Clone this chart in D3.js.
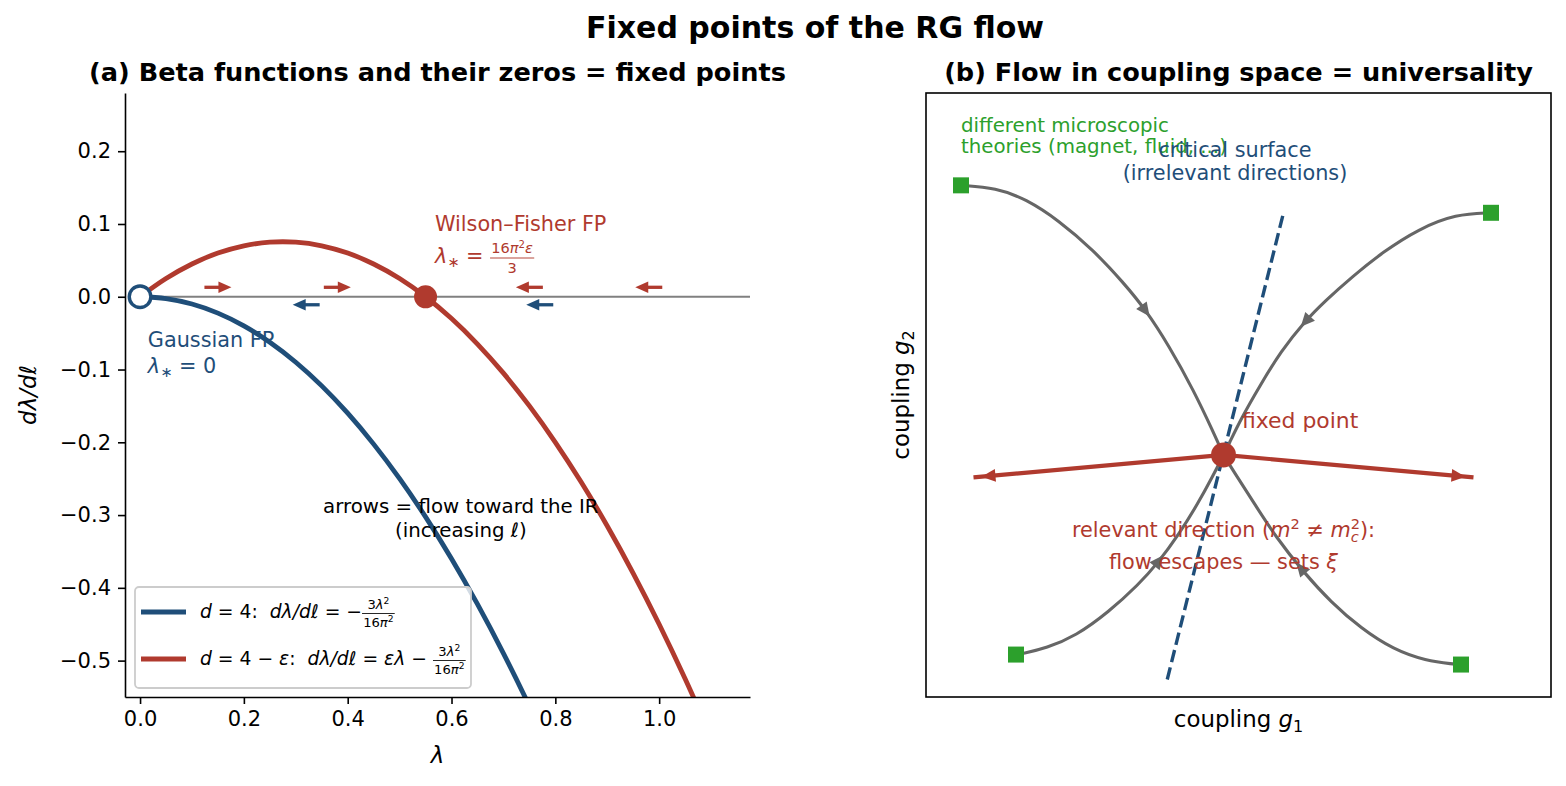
<!DOCTYPE html>
<html>
<head>
<meta charset="utf-8">
<script src="https://cdn.jsdelivr.net/npm/d3@7"></script>
<style>
  body { margin: 0; background: #fff; }
  svg { font-family: "DejaVu Sans", sans-serif; }
  text { white-space: pre; }
</style>
</head>
<body>
<svg id="chart" width="1566" height="786"></svg>
<script>
// ---- data: panel (a) beta functions ----
const lam = [0, 0.05, 0.1, 0.15, 0.2, 0.25, 0.3, 0.35, 0.4, 0.45, 0.5, 0.55,
  0.6, 0.65, 0.7, 0.75, 0.8, 0.85, 0.9, 0.95, 1.0, 1.05, 1.1];
const betaD4 = [0, -0.0025, -0.01, -0.0225, -0.04, -0.0625, -0.09, -0.1225, -0.16,
  -0.2025, -0.25, -0.3025, -0.36, -0.4225, -0.49, -0.5625, -0.64, -0.7225, -0.81,
  -0.9025, -1.0, -1.1025, -1.21];
const betaEps = [0, 0.025, 0.045, 0.06, 0.07, 0.075, 0.075, 0.07, 0.06, 0.045,
  0.025, 0, -0.03, -0.065, -0.105, -0.15, -0.2, -0.255, -0.315, -0.38, -0.45,
  -0.525, -0.605];
const lamTicks = [0, 0.2, 0.4, 0.6, 0.8, 1.0];
const betaTicks = [0.2, 0.1, 0, -0.1, -0.2, -0.3, -0.4, -0.5];
const gaussianFP = [0, 0];
const wilsonFisherFP = [0.55, 0];
// flow arrows along the lambda axis (centre, direction)
const epsArrowLam = [0.15, 0.38, 0.75, 0.98];
const epsArrowDir = [1, 1, -1, -1];
const d4ArrowLam = [0.32, 0.77];
const d4ArrowDir = [-1, -1];

// ---- data: panel (b) coupling space ----
const fixedPoint = [0, 0];
const flowTL = [[-1.05, 1.08], [-0.91, 1.07], [-0.79, 1.025], [-0.66, 0.94], [-0.52, 0.82],
  [-0.40, 0.69], [-0.31, 0.58], [-0.22, 0.44], [-0.12, 0.26], [-0.04, 0.09], [0, 0]];
const flowTR = [[1.07, 0.97], [0.93, 0.965], [0.78, 0.905], [0.64, 0.815], [0.51, 0.71],
  [0.41, 0.62], [0.32, 0.53], [0.23, 0.415], [0.15, 0.285], [0.07, 0.145], [0.02, 0.04], [0, 0]];
const flowBL = [[-0.83, -0.80], [-0.80, -0.795], [-0.71, -0.775], [-0.59, -0.725], [-0.46, -0.63],
  [-0.34, -0.52], [-0.26, -0.43], [-0.18, -0.32], [-0.105, -0.20], [-0.04, -0.08], [0, 0]];
const flowBR = [[0.95, -0.84], [0.92, -0.838], [0.81, -0.825], [0.68, -0.78], [0.55, -0.695],
  [0.43, -0.59], [0.32, -0.47], [0.21, -0.33], [0.12, -0.19], [0.04, -0.065], [0, 0]];
const relevantEnds = [[-1.0, -0.09], [1.0, -0.09]];
const criticalSurface = [[-0.225, -0.90], [0.24, 0.97]];

const RED = "#b03a2e", BLUE = "#1f4e79", GREEN = "#2ca02c", FLOW = "#666666";

const svg = d3.select("#chart");

// --- tiny mathtext-like layout: parts = [{t, it, sup, sub} | {frac:[num, den]} | {subsup:[a,b], it}]
function mathRun(g, x, y, parts, size, color) {
  let cx = x;
  parts.forEach(p => {
    if (p.frac) {
      const fs = size * 0.7;
      const ng = g.append("g"), dg = g.append("g");
      const wn = mathRun(ng, 0, 0, p.frac[0], fs, color);
      const wd = mathRun(dg, 0, 0, p.frac[1], fs, color);
      const w = Math.max(wn, wd) + size * 0.12;
      ng.attr("transform", `translate(${cx + (w - wn) / 2},${y - size * 0.46})`);
      dg.attr("transform", `translate(${cx + (w - wd) / 2},${y + size * 0.48})`);
      g.append("line")
        .attr("x1", cx).attr("x2", cx + w)
        .attr("y1", y - size * 0.24).attr("y2", y - size * 0.24)
        .attr("stroke", color).attr("stroke-width", size * 0.045);
      cx += w;
    } else if (p.subsup) {
      const fs = size * 0.7;
      const a = g.append("text").attr("x", cx).attr("y", y + size * 0.22)
        .attr("font-size", fs).attr("fill", color)
        .attr("font-style", p.it ? "italic" : null).text(p.subsup[0]);
      const b = g.append("text").attr("x", cx).attr("y", y - size * 0.4)
        .attr("font-size", fs).attr("fill", color).text(p.subsup[1]);
      cx += Math.max(a.node().getComputedTextLength(), b.node().getComputedTextLength());
    } else {
      const small = p.sup || p.sub;
      const fs = small ? size * 0.7 : size;
      const dy = p.sup ? -size * 0.38 : p.sub ? size * 0.2 : 0;
      const t = g.append("text").attr("x", cx).attr("y", y + dy)
        .attr("font-size", fs).attr("fill", color)
        .attr("font-style", p.it ? "italic" : null)
        .text(p.t);
      cx += t.node().getComputedTextLength();
    }
  });
  return cx - x;
}

function mathText(parent, x, y, parts, size, color, anchor, rotate) {
  const outer = parent.append("g").attr("transform", `translate(${x},${y})` + (rotate ? ` rotate(${rotate})` : ""));
  const g = outer.append("g");
  const w = mathRun(g, 0, 0, parts, size, color);
  if (anchor === "middle") g.attr("transform", `translate(${-w / 2},0)`);
  return outer;
}

function arrow(g, x1, y1, x2, y2, color, lw, headLen, headW, overshoot) {
  const dx = x2 - x1, dy = y2 - y1, L = Math.hypot(dx, dy);
  const ux = dx / L, uy = dy / L;
  const tx = x2 - ux * (overshoot || 0), ty = y2 - uy * (overshoot || 0);
  const bx = tx - ux * headLen, by = ty - uy * headLen;
  g.append("line")
    .attr("x1", x1).attr("y1", y1)
    .attr("x2", overshoot ? x2 : bx + ux * 2).attr("y2", overshoot ? y2 : by + uy * 2)
    .attr("stroke", color).attr("stroke-width", lw);
  g.append("path")
    .attr("d", `M${tx},${ty}L${bx - uy * headW / 2},${by + ux * headW / 2}L${bx + uy * headW / 2},${by - ux * headW / 2}Z`)
    .attr("fill", color);
}

function styleAxis(sel) {
  sel.select(".domain").attr("stroke", "#000").attr("stroke-width", 1.6);
  sel.selectAll(".tick line").attr("stroke", "#000").attr("stroke-width", 1.6);
  sel.selectAll(".tick text").attr("fill", "#000").attr("font-size", 21)
    .attr("font-family", "DejaVu Sans");
}

// ---- suptitle ----
svg.append("text").attr("x", 815).attr("y", 38).attr("text-anchor", "middle")
  .attr("font-size", 30).attr("font-weight", "bold")
  .text("Fixed points of the RG flow");

// =============== panel (a) ===============
const A = { left: 125, right: 750, top: 93, bottom: 697 };
const ax = d3.scaleLinear().domain([-0.029, 1.175]).range([A.left, A.right]);
const ay = d3.scaleLinear().domain([-0.55, 0.28]).range([A.bottom, A.top]);
const ga = svg.append("g");

svg.append("defs").append("clipPath").attr("id", "clipA")
  .append("rect").attr("x", A.left).attr("y", A.top)
  .attr("width", A.right - A.left).attr("height", A.bottom - A.top);

ga.append("text").attr("x", (A.left + A.right) / 2).attr("y", 81)
  .attr("text-anchor", "middle").attr("font-size", 25.6).attr("font-weight", "bold")
  .text("(a) Beta functions and their zeros = fixed points");

// zero line
ga.append("line")
  .attr("x1", ax(0)).attr("x2", ax(ax.domain()[1]))
  .attr("y1", ay(0)).attr("y2", ay(0))
  .attr("stroke", "#808080").attr("stroke-width", 2);

const lineA = d3.line().x((d, i) => ax(lam[i])).y(d => ay(d)).curve(d3.curveCatmullRom);
const curves = ga.append("g").attr("clip-path", "url(#clipA)");
curves.append("path").attr("d", lineA(betaD4)).attr("fill", "none")
  .attr("stroke", BLUE).attr("stroke-width", 4.8);
curves.append("path").attr("d", lineA(betaEps)).attr("fill", "none")
  .attr("stroke", RED).attr("stroke-width", 4.8);

// flow arrows on the axis
const halfA = 0.026;
epsArrowLam.forEach((l, i) => {
  const d = epsArrowDir[i];
  arrow(ga, ax(l - d * halfA), ay(0.013), ax(l + d * halfA), ay(0.013), RED, 3.3, 13, 11.5);
});
d4ArrowLam.forEach((l, i) => {
  const d = d4ArrowDir[i];
  arrow(ga, ax(l - d * halfA), ay(-0.011), ax(l + d * halfA), ay(-0.011), BLUE, 3.3, 13, 11.5);
});

// fixed point markers
ga.append("circle").attr("cx", ax(gaussianFP[0])).attr("cy", ay(gaussianFP[1])).attr("r", 10.8)
  .attr("fill", "#fff").attr("stroke", BLUE).attr("stroke-width", 3.4);
ga.append("circle").attr("cx", ax(wilsonFisherFP[0])).attr("cy", ay(wilsonFisherFP[1])).attr("r", 11.5)
  .attr("fill", RED);

// axes
const axB = ga.append("g").attr("transform", `translate(0,${A.bottom})`)
  .call(d3.axisBottom(ax).tickValues(lamTicks).tickFormat(d3.format(".1f"))
    .tickSize(7).tickPadding(7).tickSizeOuter(0));
styleAxis(axB);
const axL = ga.append("g").attr("transform", `translate(${A.left},0)`)
  .call(d3.axisLeft(ay).tickValues(betaTicks).tickFormat(d3.format(".1f"))
    .tickSize(7).tickPadding(7).tickSizeOuter(0));
styleAxis(axL);

mathText(ga, (A.left + A.right) / 2, 763, [{ t: "λ", it: true }], 22.9, "#000", "middle");
mathText(ga, 36, (A.top + A.bottom) / 2, [{ t: "dλ/dℓ", it: true }], 22.9, "#000", "middle", -90);

// annotations
ga.append("text").attr("x", ax(0.568)).attr("y", 231).attr("font-size", 20.8).attr("fill", RED)
  .text("Wilson–Fisher FP");
mathText(ga, ax(0.568), 263, [{ t: "λ", it: true }, { t: "∗", sub: true }, { t: " = " },
  { frac: [[{ t: "16" }, { t: "π", it: true }, { t: "2", sup: true }, { t: "ε", it: true }], [{ t: "3" }]] }],
  20.8, RED);
ga.append("text").attr("x", ax(0.015)).attr("y", 347).attr("font-size", 20.8).attr("fill", BLUE)
  .text("Gaussian FP");
mathText(ga, ax(0.015), 373, [{ t: "λ", it: true }, { t: "∗", sub: true }, { t: " = 0" }], 20.8, BLUE);

ga.append("text").attr("x", ax(0.618)).attr("y", 513).attr("text-anchor", "middle")
  .attr("font-size", 19.8).text("arrows = flow toward the IR");
mathText(ga, ax(0.618), 537, [{ t: "(increasing " }, { t: "ℓ", it: true }, { t: ")" }], 19.8, "#000", "middle");

// legend
const leg = ga.append("g");
leg.append("rect").attr("x", 135).attr("y", 587).attr("width", 336).attr("height", 101)
  .attr("rx", 4).attr("fill", "#fff").attr("fill-opacity", 0.8)
  .attr("stroke", "#cccccc").attr("stroke-width", 1.8);
const fracL = { frac: [[{ t: "3" }, { t: "λ", it: true }, { t: "2", sup: true }],
  [{ t: "16" }, { t: "π", it: true }, { t: "2", sup: true }]] };
const legendItems = [
  { color: BLUE, parts: [{ t: "d", it: true }, { t: " = 4:  " }, { t: "dλ/dℓ", it: true }, { t: " = −" }, fracL] },
  { color: RED, parts: [{ t: "d", it: true }, { t: " = 4 − " }, { t: "ε", it: true }, { t: ":  " },
    { t: "dλ/dℓ", it: true }, { t: " = " }, { t: "ελ", it: true }, { t: " − " }, fracL] }
];
legendItems.forEach((it, i) => {
  const yy = 612 + i * 47;
  leg.append("line").attr("x1", 141).attr("x2", 186).attr("y1", yy).attr("y2", yy)
    .attr("stroke", it.color).attr("stroke-width", 4.8);
  mathText(leg, 200, yy + 6, it.parts, 18.75, "#000");
});

// =============== panel (b) ===============
const B = { left: 926, right: 1551, top: 93, bottom: 697 };
const bx = d3.scaleLinear().domain([-1.19, 1.31]).range([B.left, B.right]);
const by = d3.scaleLinear().domain([-0.97, 1.45]).range([B.bottom, B.top]);
const gb = svg.append("g");

gb.append("text").attr("x", (B.left + B.right) / 2).attr("y", 81)
  .attr("text-anchor", "middle").attr("font-size", 25.6).attr("font-weight", "bold")
  .text("(b) Flow in coupling space = universality");

// critical surface
gb.append("line")
  .attr("x1", bx(criticalSurface[0][0])).attr("y1", by(criticalSurface[0][1]))
  .attr("x2", bx(criticalSurface[1][0])).attr("y2", by(criticalSurface[1][1]))
  .attr("stroke", BLUE).attr("stroke-width", 3.4).attr("stroke-dasharray", "12.5,5.4");

// flow lines into the fixed point
const lineB = d3.line().x(d => bx(d[0])).y(d => by(d[1])).curve(d3.curveBasis);
[flowTL, flowTR, flowBL, flowBR].forEach(fl => {
  const p = gb.append("path").attr("d", lineB(fl)).attr("fill", "none")
    .attr("stroke", FLOW).attr("stroke-width", 3.1);
  const node = p.node(), L = node.getTotalLength();
  const a = node.getPointAtLength(L * 0.585 - 7), b = node.getPointAtLength(L * 0.585 + 7);
  const dx = b.x - a.x, dy = b.y - a.y, n = Math.hypot(dx, dy), ux = dx / n, uy = dy / n, hw = 6.5;
  gb.append("path")
    .attr("d", `M${b.x},${b.y}L${a.x - uy * hw},${a.y + ux * hw}L${a.x + uy * hw},${a.y - ux * hw}Z`)
    .attr("fill", FLOW);
});

// relevant direction
relevantEnds.forEach(e => {
  arrow(gb, bx(fixedPoint[0]), by(fixedPoint[1]), bx(e[0]), by(e[1]), RED, 4.2, 14, 13, 8);
});

// starting theories
[flowTL, flowTR, flowBL, flowBR].forEach(fl => {
  gb.append("rect").attr("x", bx(fl[0][0]) - 8).attr("y", by(fl[0][1]) - 8)
    .attr("width", 16).attr("height", 16).attr("fill", GREEN);
});

gb.append("circle").attr("cx", bx(fixedPoint[0])).attr("cy", by(fixedPoint[1])).attr("r", 12.5)
  .attr("fill", RED);

// frame
gb.append("rect").attr("x", B.left).attr("y", B.top)
  .attr("width", B.right - B.left).attr("height", B.bottom - B.top)
  .attr("fill", "none").attr("stroke", "#000").attr("stroke-width", 1.6);

// texts
gb.append("text").attr("x", bx(-1.05)).attr("y", by(1.294)).attr("font-size", 19.8).attr("fill", GREEN)
  .text("different microscopic");
gb.append("text").attr("x", bx(-1.05)).attr("y", by(1.21)).attr("font-size", 19.8).attr("fill", GREEN)
  .text("theories (magnet, fluid, ...)");
gb.append("text").attr("x", bx(0.046)).attr("y", by(1.194)).attr("text-anchor", "middle")
  .attr("font-size", 20.8).attr("fill", BLUE).text("critical surface");
gb.append("text").attr("x", bx(0.046)).attr("y", by(1.10)).attr("text-anchor", "middle")
  .attr("font-size", 20.8).attr("fill", BLUE).text("(irrelevant directions)");
gb.append("text").attr("x", bx(0.074)).attr("y", by(0.108))
  .attr("font-size", 21.9).attr("fill", RED).text("fixed point");
mathText(gb, bx(0), by(-0.329), [{ t: "relevant direction (" }, { t: "m", it: true }, { t: "2", sup: true },
  { t: " ≠ " }, { t: "m", it: true }, { subsup: ["c", "2"], it: true }, { t: "):" }], 20.8, RED, "middle");
mathText(gb, bx(0), by(-0.457), [{ t: "flow escapes — sets " }, { t: "ξ", it: true }], 20.8, RED, "middle");

mathText(gb, (B.left + B.right) / 2, 727, [{ t: "coupling " }, { t: "g", it: true }, { t: "1", sub: true }],
  22.9, "#000", "middle");
mathText(gb, 909, (B.top + B.bottom) / 2, [{ t: "coupling " }, { t: "g", it: true }, { t: "2", sub: true }],
  22.9, "#000", "middle", -90);
</script>
</body>
</html>
